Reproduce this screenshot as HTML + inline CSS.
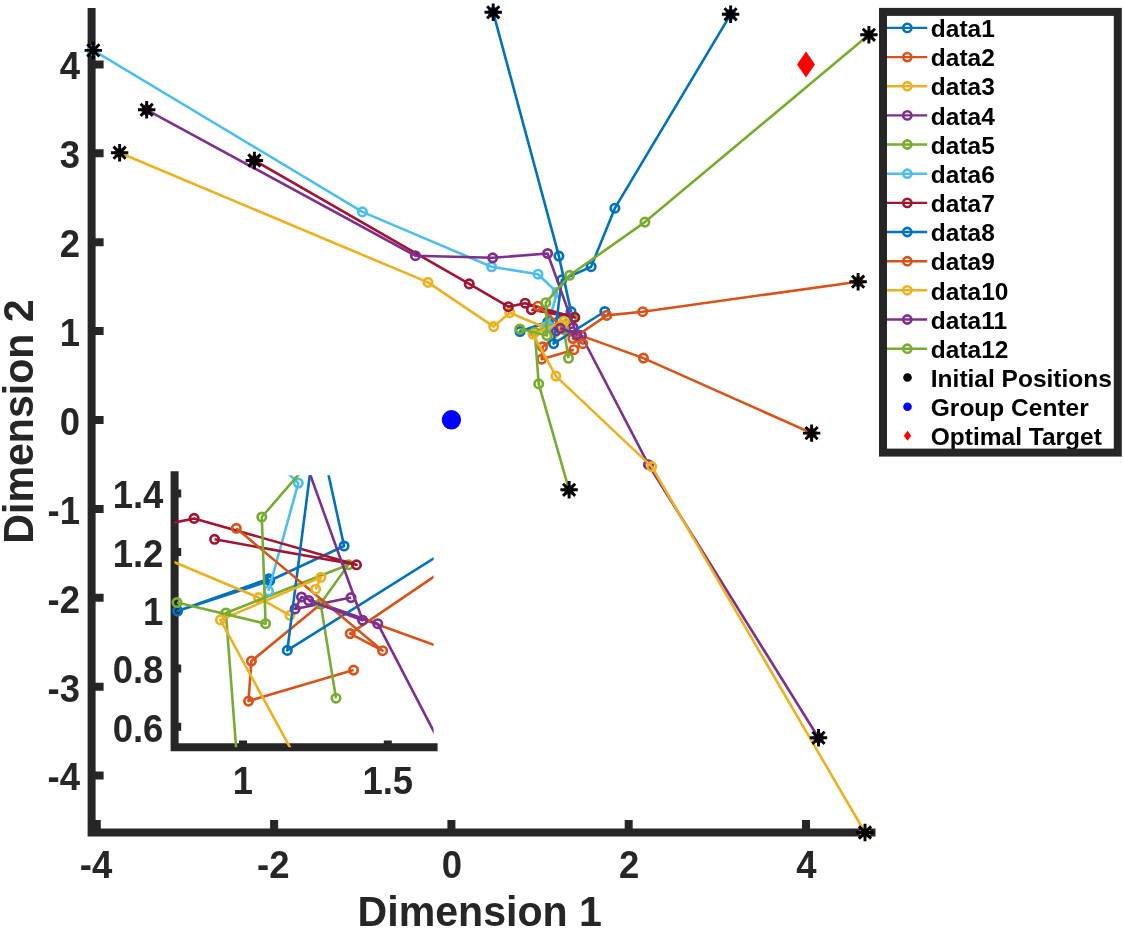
<!DOCTYPE html>
<html><head><meta charset="utf-8"><title>Dimension plot</title>
<style>
html,body{margin:0;padding:0;background:#fff}
svg{display:block;will-change:transform}
text{font-family:"Liberation Sans",Arial,Helvetica,sans-serif;font-weight:bold}
.tk{font-size:36.5px;fill:#262626}
.lb{font-size:41.1px;fill:#262626}
.lg{font-size:24.5px;fill:#000}
</style></head><body>
<svg width="1124" height="930" viewBox="0 0 1124 930">
<rect width="1124" height="930" fill="#fff"/>

<g id="axes" stroke="#262626" stroke-width="8" fill="none">
<path d="M91.6 8V836.6M87.6 832.6H875.5"/>
<path d="M91.6 775.6H103.6M91.6 686.7H103.6M91.6 597.8H103.6M91.6 508.9H103.6M91.6 420.0H103.6M91.6 331.1H103.6M91.6 242.2H103.6M91.6 153.3H103.6M91.6 64.4H103.6M96.8 832.6V820M274.1 832.6V820M451.4 832.6V820M628.7 832.6V820M806.0 832.6V820"/>
</g>
<text class="tk" transform="translate(80.0 790.4) scale(1 1.070)" text-anchor="end">-4</text>
<text class="tk" transform="translate(80.0 701.5) scale(1 1.070)" text-anchor="end">-3</text>
<text class="tk" transform="translate(80.0 612.6) scale(1 1.070)" text-anchor="end">-2</text>
<text class="tk" transform="translate(80.0 523.7) scale(1 1.070)" text-anchor="end">-1</text>
<text class="tk" transform="translate(80.0 434.8) scale(1 1.070)" text-anchor="end">0</text>
<text class="tk" transform="translate(80.0 345.9) scale(1 1.070)" text-anchor="end">1</text>
<text class="tk" transform="translate(80.0 257.0) scale(1 1.070)" text-anchor="end">2</text>
<text class="tk" transform="translate(80.0 168.1) scale(1 1.070)" text-anchor="end">3</text>
<text class="tk" transform="translate(80.0 79.2) scale(1 1.070)" text-anchor="end">4</text>
<text class="tk" transform="translate(96.0 878.0) scale(1 1.070)" text-anchor="middle">-4</text>
<text class="tk" transform="translate(273.3 878.0) scale(1 1.070)" text-anchor="middle">-2</text>
<text class="tk" transform="translate(451.8 878.0) scale(1 1.070)" text-anchor="middle">0</text>
<text class="tk" transform="translate(629.1 878.0) scale(1 1.070)" text-anchor="middle">2</text>
<text class="tk" transform="translate(806.4 878.0) scale(1 1.070)" text-anchor="middle">4</text>
<text class="lb" transform="translate(479.8 926.2) scale(1 1.03)" text-anchor="middle">Dimension 1</text>
<text class="lb" transform="translate(32.8 421.5) rotate(-90) scale(1 1.03)" text-anchor="middle">Dimension 2</text>
<g id="main">
<polyline points="493.2,12.3 558.9,256.1 571.0,311.6 548.2,322.3 520.0,331.5 548.0,321.7" fill="none" stroke="#0072BD" stroke-width="2.60" stroke-linejoin="round"/><circle cx="493.2" cy="12.3" r="4.2" fill="none" stroke="#0072BD" stroke-width="2.7"/><circle cx="558.9" cy="256.1" r="4.2" fill="none" stroke="#0072BD" stroke-width="2.7"/><circle cx="571.0" cy="311.6" r="4.2" fill="none" stroke="#0072BD" stroke-width="2.7"/><circle cx="548.2" cy="322.3" r="4.2" fill="none" stroke="#0072BD" stroke-width="2.7"/><circle cx="520.0" cy="331.5" r="4.2" fill="none" stroke="#0072BD" stroke-width="2.7"/><circle cx="548.0" cy="321.7" r="4.2" fill="none" stroke="#0072BD" stroke-width="2.7"/>
<polyline points="811.6,433.1 643.4,358.1 563.9,329.4 542.6,346.9 541.7,359.2 573.9,349.7" fill="none" stroke="#D95319" stroke-width="2.60" stroke-linejoin="round"/><circle cx="811.6" cy="433.1" r="4.2" fill="none" stroke="#D95319" stroke-width="2.7"/><circle cx="643.4" cy="358.1" r="4.2" fill="none" stroke="#D95319" stroke-width="2.7"/><circle cx="563.9" cy="329.4" r="4.2" fill="none" stroke="#D95319" stroke-width="2.7"/><circle cx="542.6" cy="346.9" r="4.2" fill="none" stroke="#D95319" stroke-width="2.7"/><circle cx="541.7" cy="359.2" r="4.2" fill="none" stroke="#D95319" stroke-width="2.7"/><circle cx="573.9" cy="349.7" r="4.2" fill="none" stroke="#D95319" stroke-width="2.7"/>
<polyline points="119.6,152.7 428.0,282.4 493.7,326.6 509.8,312.7 544.8,327.5 554.4,332.9" fill="none" stroke="#EDB120" stroke-width="2.60" stroke-linejoin="round"/><circle cx="119.6" cy="152.7" r="4.2" fill="none" stroke="#EDB120" stroke-width="2.7"/><circle cx="428.0" cy="282.4" r="4.2" fill="none" stroke="#EDB120" stroke-width="2.7"/><circle cx="493.7" cy="326.6" r="4.2" fill="none" stroke="#EDB120" stroke-width="2.7"/><circle cx="509.8" cy="312.7" r="4.2" fill="none" stroke="#EDB120" stroke-width="2.7"/><circle cx="544.8" cy="327.5" r="4.2" fill="none" stroke="#EDB120" stroke-width="2.7"/><circle cx="554.4" cy="332.9" r="4.2" fill="none" stroke="#EDB120" stroke-width="2.7"/>
<polyline points="818.5,737.8 648.5,464.7 581.3,335.5 558.0,327.3 556.0,330.9 573.1,327.5" fill="none" stroke="#7E2F8E" stroke-width="2.60" stroke-linejoin="round"/><circle cx="818.5" cy="737.8" r="4.2" fill="none" stroke="#7E2F8E" stroke-width="2.7"/><circle cx="648.5" cy="464.7" r="4.2" fill="none" stroke="#7E2F8E" stroke-width="2.7"/><circle cx="581.3" cy="335.5" r="4.2" fill="none" stroke="#7E2F8E" stroke-width="2.7"/><circle cx="558.0" cy="327.3" r="4.2" fill="none" stroke="#7E2F8E" stroke-width="2.7"/><circle cx="556.0" cy="330.9" r="4.2" fill="none" stroke="#7E2F8E" stroke-width="2.7"/><circle cx="573.1" cy="327.5" r="4.2" fill="none" stroke="#7E2F8E" stroke-width="2.7"/>
<polyline points="569.1,489.8 538.7,383.9 534.8,332.2 572.3,317.4 563.8,329.2 568.5,358.3" fill="none" stroke="#77AC30" stroke-width="2.60" stroke-linejoin="round"/><circle cx="569.1" cy="489.8" r="4.2" fill="none" stroke="#77AC30" stroke-width="2.7"/><circle cx="538.7" cy="383.9" r="4.2" fill="none" stroke="#77AC30" stroke-width="2.7"/><circle cx="534.8" cy="332.2" r="4.2" fill="none" stroke="#77AC30" stroke-width="2.7"/><circle cx="572.3" cy="317.4" r="4.2" fill="none" stroke="#77AC30" stroke-width="2.7"/><circle cx="563.8" cy="329.2" r="4.2" fill="none" stroke="#77AC30" stroke-width="2.7"/><circle cx="568.5" cy="358.3" r="4.2" fill="none" stroke="#77AC30" stroke-width="2.7"/>
<polyline points="93.3,50.4 362.4,211.9 491.6,266.8 538.0,274.2 557.0,292.3 547.9,325.4" fill="none" stroke="#4DBEEE" stroke-width="2.60" stroke-linejoin="round"/><circle cx="93.3" cy="50.4" r="4.2" fill="none" stroke="#4DBEEE" stroke-width="2.7"/><circle cx="362.4" cy="211.9" r="4.2" fill="none" stroke="#4DBEEE" stroke-width="2.7"/><circle cx="491.6" cy="266.8" r="4.2" fill="none" stroke="#4DBEEE" stroke-width="2.7"/><circle cx="538.0" cy="274.2" r="4.2" fill="none" stroke="#4DBEEE" stroke-width="2.7"/><circle cx="557.0" cy="292.3" r="4.2" fill="none" stroke="#4DBEEE" stroke-width="2.7"/><circle cx="547.9" cy="325.4" r="4.2" fill="none" stroke="#4DBEEE" stroke-width="2.7"/>
<polyline points="254.4,160.5 469.2,283.9 508.3,306.7 525.1,303.2 574.8,317.4 531.4,309.6" fill="none" stroke="#A2142F" stroke-width="2.60" stroke-linejoin="round"/><circle cx="254.4" cy="160.5" r="4.2" fill="none" stroke="#A2142F" stroke-width="2.7"/><circle cx="469.2" cy="283.9" r="4.2" fill="none" stroke="#A2142F" stroke-width="2.7"/><circle cx="508.3" cy="306.7" r="4.2" fill="none" stroke="#A2142F" stroke-width="2.7"/><circle cx="525.1" cy="303.2" r="4.2" fill="none" stroke="#A2142F" stroke-width="2.7"/><circle cx="574.8" cy="317.4" r="4.2" fill="none" stroke="#A2142F" stroke-width="2.7"/><circle cx="531.4" cy="309.6" r="4.2" fill="none" stroke="#A2142F" stroke-width="2.7"/>
<polyline points="730.6,14.3 614.9,208.2 591.1,266.7 561.8,279.9 553.6,343.6 604.8,311.5" fill="none" stroke="#0072BD" stroke-width="2.60" stroke-linejoin="round"/><circle cx="730.6" cy="14.3" r="4.2" fill="none" stroke="#0072BD" stroke-width="2.7"/><circle cx="614.9" cy="208.2" r="4.2" fill="none" stroke="#0072BD" stroke-width="2.7"/><circle cx="591.1" cy="266.7" r="4.2" fill="none" stroke="#0072BD" stroke-width="2.7"/><circle cx="561.8" cy="279.9" r="4.2" fill="none" stroke="#0072BD" stroke-width="2.7"/><circle cx="553.6" cy="343.6" r="4.2" fill="none" stroke="#0072BD" stroke-width="2.7"/><circle cx="604.8" cy="311.5" r="4.2" fill="none" stroke="#0072BD" stroke-width="2.7"/>
<polyline points="858.1,281.7 642.7,311.7 606.8,315.4 572.9,338.5 582.8,343.7 538.0,306.2" fill="none" stroke="#D95319" stroke-width="2.60" stroke-linejoin="round"/><circle cx="858.1" cy="281.7" r="4.2" fill="none" stroke="#D95319" stroke-width="2.7"/><circle cx="642.7" cy="311.7" r="4.2" fill="none" stroke="#D95319" stroke-width="2.7"/><circle cx="606.8" cy="315.4" r="4.2" fill="none" stroke="#D95319" stroke-width="2.7"/><circle cx="572.9" cy="338.5" r="4.2" fill="none" stroke="#D95319" stroke-width="2.7"/><circle cx="582.8" cy="343.7" r="4.2" fill="none" stroke="#D95319" stroke-width="2.7"/><circle cx="538.0" cy="306.2" r="4.2" fill="none" stroke="#D95319" stroke-width="2.7"/>
<polyline points="865.0,832.5 651.7,466.6 555.9,376.1 533.1,334.3 563.9,321.2 562.3,324.9" fill="none" stroke="#EDB120" stroke-width="2.60" stroke-linejoin="round"/><circle cx="865.0" cy="832.5" r="4.2" fill="none" stroke="#EDB120" stroke-width="2.7"/><circle cx="651.7" cy="466.6" r="4.2" fill="none" stroke="#EDB120" stroke-width="2.7"/><circle cx="555.9" cy="376.1" r="4.2" fill="none" stroke="#EDB120" stroke-width="2.7"/><circle cx="533.1" cy="334.3" r="4.2" fill="none" stroke="#EDB120" stroke-width="2.7"/><circle cx="563.9" cy="321.2" r="4.2" fill="none" stroke="#EDB120" stroke-width="2.7"/><circle cx="562.3" cy="324.9" r="4.2" fill="none" stroke="#EDB120" stroke-width="2.7"/>
<polyline points="146.7,109.8 415.4,255.7 492.7,257.8 547.6,253.5 576.7,334.4 560.2,328.3" fill="none" stroke="#7E2F8E" stroke-width="2.60" stroke-linejoin="round"/><circle cx="146.7" cy="109.8" r="4.2" fill="none" stroke="#7E2F8E" stroke-width="2.7"/><circle cx="415.4" cy="255.7" r="4.2" fill="none" stroke="#7E2F8E" stroke-width="2.7"/><circle cx="492.7" cy="257.8" r="4.2" fill="none" stroke="#7E2F8E" stroke-width="2.7"/><circle cx="547.6" cy="253.5" r="4.2" fill="none" stroke="#7E2F8E" stroke-width="2.7"/><circle cx="576.7" cy="334.4" r="4.2" fill="none" stroke="#7E2F8E" stroke-width="2.7"/><circle cx="560.2" cy="328.3" r="4.2" fill="none" stroke="#7E2F8E" stroke-width="2.7"/>
<polyline points="868.9,34.8 644.9,222.1 569.6,275.3 545.8,302.7 547.0,335.5 519.8,329.0" fill="none" stroke="#77AC30" stroke-width="2.60" stroke-linejoin="round"/><circle cx="868.9" cy="34.8" r="4.2" fill="none" stroke="#77AC30" stroke-width="2.7"/><circle cx="644.9" cy="222.1" r="4.2" fill="none" stroke="#77AC30" stroke-width="2.7"/><circle cx="569.6" cy="275.3" r="4.2" fill="none" stroke="#77AC30" stroke-width="2.7"/><circle cx="545.8" cy="302.7" r="4.2" fill="none" stroke="#77AC30" stroke-width="2.7"/><circle cx="547.0" cy="335.5" r="4.2" fill="none" stroke="#77AC30" stroke-width="2.7"/><circle cx="519.8" cy="329.0" r="4.2" fill="none" stroke="#77AC30" stroke-width="2.7"/>
<circle cx="451.4" cy="419.8" r="9.7" fill="#0000FF"/>
<path d="M806.0 51.4L815.0 64.4L806.0 77.4L797.0 64.4Z" fill="#FF0000"/>
<path d="M484.5 12.3H501.9M493.2 3.6V21.0M487.1 6.2L499.3 18.4M487.1 18.4L499.3 6.2" stroke="#000" stroke-width="2.9" fill="none"/>
<path d="M802.9 433.1H820.3M811.6 424.4V441.8M805.5 427.0L817.7 439.2M805.5 439.2L817.7 427.0" stroke="#000" stroke-width="2.9" fill="none"/>
<path d="M110.9 152.7H128.3M119.6 144.0V161.4M113.5 146.6L125.7 158.8M113.5 158.8L125.7 146.6" stroke="#000" stroke-width="2.9" fill="none"/>
<path d="M809.8 737.8H827.2M818.5 729.1V746.5M812.4 731.7L824.6 743.9M812.4 743.9L824.6 731.7" stroke="#000" stroke-width="2.9" fill="none"/>
<path d="M560.4 489.8H577.8M569.1 481.1V498.5M563.0 483.7L575.2 495.9M563.0 495.9L575.2 483.7" stroke="#000" stroke-width="2.9" fill="none"/>
<path d="M84.6 50.4H102.0M93.3 41.7V59.1M87.2 44.3L99.4 56.5M87.2 56.5L99.4 44.3" stroke="#000" stroke-width="2.9" fill="none"/>
<path d="M245.7 160.5H263.1M254.4 151.8V169.2M248.3 154.4L260.5 166.6M248.3 166.6L260.5 154.4" stroke="#000" stroke-width="2.9" fill="none"/>
<path d="M721.9 14.3H739.3M730.6 5.6V23.0M724.5 8.2L736.7 20.4M724.5 20.4L736.7 8.2" stroke="#000" stroke-width="2.9" fill="none"/>
<path d="M849.4 281.7H866.8M858.1 273.0V290.4M852.0 275.6L864.2 287.8M852.0 287.8L864.2 275.6" stroke="#000" stroke-width="2.9" fill="none"/>
<path d="M856.3 832.5H873.7M865.0 823.8V841.2M858.9 826.4L871.1 838.6M858.9 838.6L871.1 826.4" stroke="#000" stroke-width="2.9" fill="none"/>
<path d="M138.0 109.8H155.4M146.7 101.1V118.5M140.6 103.7L152.8 115.9M140.6 115.9L152.8 103.7" stroke="#000" stroke-width="2.9" fill="none"/>
<path d="M860.2 34.8H877.6M868.9 26.1V43.5M862.8 28.7L875.0 40.9M862.8 40.9L875.0 28.7" stroke="#000" stroke-width="2.9" fill="none"/>
</g>
<g stroke="#262626" stroke-width="8" fill="none">
<path d="M174.6 471.2V751.2M170.6 747.2H437.6"/>
<path d="M174.6 726.8H181.2M174.6 668.5H181.2M174.6 610.2H181.2M174.6 551.9H181.2M174.6 493.6H181.2M243.0 747.2V740.6M387.8 747.2V740.6"/>
</g>
<text class="tk" transform="translate(163.4 741.6) scale(1 1.070)" text-anchor="end">0.6</text>
<text class="tk" transform="translate(163.4 683.3) scale(1 1.070)" text-anchor="end">0.8</text>
<text class="tk" transform="translate(163.4 625.0) scale(1 1.070)" text-anchor="end">1</text>
<text class="tk" transform="translate(163.4 566.7) scale(1 1.070)" text-anchor="end">1.2</text>
<text class="tk" transform="translate(163.4 508.4) scale(1 1.070)" text-anchor="end">1.4</text>
<text class="tk" transform="translate(243.0 793.5) scale(1 1.070)" text-anchor="middle">1</text>
<text class="tk" transform="translate(387.8 793.5) scale(1 1.070)" text-anchor="middle">1.5</text>
<clipPath id="ic"><rect x="174.6" y="475.2" width="259.0" height="272.0"/></clipPath>
<g id="inset">
<polyline clip-path="url(#ic)" points="89.8,-430.4 304.4,364.7 344.1,546.0 269.6,580.8 177.6,611.0 268.9,578.7" fill="none" stroke="#0072BD" stroke-width="2.60" stroke-linejoin="round"/>
<circle cx="344.1" cy="546.0" r="4.2" fill="none" stroke="#0072BD" stroke-width="2.7"/>
<circle cx="269.6" cy="580.8" r="4.2" fill="none" stroke="#0072BD" stroke-width="2.7"/>
<circle cx="177.6" cy="611.0" r="4.2" fill="none" stroke="#0072BD" stroke-width="2.7"/>
<circle cx="268.9" cy="578.7" r="4.2" fill="none" stroke="#0072BD" stroke-width="2.7"/>
<polyline clip-path="url(#ic)" points="1130.0,942.1 580.7,697.7 320.9,604.0 251.4,661.1 248.5,701.1 353.6,670.1" fill="none" stroke="#D95319" stroke-width="2.60" stroke-linejoin="round"/>
<circle cx="320.9" cy="604.0" r="4.2" fill="none" stroke="#D95319" stroke-width="2.7"/>
<circle cx="251.4" cy="661.1" r="4.2" fill="none" stroke="#D95319" stroke-width="2.7"/>
<circle cx="248.5" cy="701.1" r="4.2" fill="none" stroke="#D95319" stroke-width="2.7"/>
<circle cx="353.6" cy="670.1" r="4.2" fill="none" stroke="#D95319" stroke-width="2.7"/>
<polyline clip-path="url(#ic)" points="-1130.3,27.5 -123.1,450.6 91.5,594.7 144.2,549.5 258.6,597.6 289.9,615.3" fill="none" stroke="#EDB120" stroke-width="2.60" stroke-linejoin="round"/>
<circle cx="258.6" cy="597.6" r="4.2" fill="none" stroke="#EDB120" stroke-width="2.7"/>
<circle cx="289.9" cy="615.3" r="4.2" fill="none" stroke="#EDB120" stroke-width="2.7"/>
<polyline clip-path="url(#ic)" points="1152.6,1936.2 597.2,1045.4 377.7,623.7 301.5,597.0 295.1,608.9 351.0,597.6" fill="none" stroke="#7E2F8E" stroke-width="2.60" stroke-linejoin="round"/>
<circle cx="377.7" cy="623.7" r="4.2" fill="none" stroke="#7E2F8E" stroke-width="2.7"/>
<circle cx="301.5" cy="597.0" r="4.2" fill="none" stroke="#7E2F8E" stroke-width="2.7"/>
<circle cx="295.1" cy="608.9" r="4.2" fill="none" stroke="#7E2F8E" stroke-width="2.7"/>
<circle cx="351.0" cy="597.6" r="4.2" fill="none" stroke="#7E2F8E" stroke-width="2.7"/>
<polyline clip-path="url(#ic)" points="337.8,1127.2 238.7,781.8 225.9,613.0 348.4,564.8 320.6,603.4 336.0,698.2" fill="none" stroke="#77AC30" stroke-width="2.60" stroke-linejoin="round"/>
<circle cx="225.9" cy="613.0" r="4.2" fill="none" stroke="#77AC30" stroke-width="2.7"/>
<circle cx="348.4" cy="564.8" r="4.2" fill="none" stroke="#77AC30" stroke-width="2.7"/>
<circle cx="320.6" cy="603.4" r="4.2" fill="none" stroke="#77AC30" stroke-width="2.7"/>
<circle cx="336.0" cy="698.2" r="4.2" fill="none" stroke="#77AC30" stroke-width="2.7"/>
<polyline clip-path="url(#ic)" points="-1216.3,-306.0 -337.4,220.6 84.6,399.8 236.3,423.9 298.3,483.1 268.5,590.9" fill="none" stroke="#4DBEEE" stroke-width="2.60" stroke-linejoin="round"/>
<circle cx="298.3" cy="483.1" r="4.2" fill="none" stroke="#4DBEEE" stroke-width="2.7"/>
<circle cx="268.5" cy="590.9" r="4.2" fill="none" stroke="#4DBEEE" stroke-width="2.7"/>
<polyline clip-path="url(#ic)" points="-690.1,53.0 11.6,455.5 139.3,530.0 194.1,518.4 356.5,564.8 214.6,539.3" fill="none" stroke="#A2142F" stroke-width="2.60" stroke-linejoin="round"/>
<circle cx="194.1" cy="518.4" r="4.2" fill="none" stroke="#A2142F" stroke-width="2.7"/>
<circle cx="356.5" cy="564.8" r="4.2" fill="none" stroke="#A2142F" stroke-width="2.7"/>
<circle cx="214.6" cy="539.3" r="4.2" fill="none" stroke="#A2142F" stroke-width="2.7"/>
<polyline clip-path="url(#ic)" points="865.4,-424.1 487.4,208.7 409.8,399.5 314.0,442.5 287.3,650.4 454.4,545.4" fill="none" stroke="#0072BD" stroke-width="2.60" stroke-linejoin="round"/>
<circle cx="287.3" cy="650.4" r="4.2" fill="none" stroke="#0072BD" stroke-width="2.7"/>
<polyline clip-path="url(#ic)" points="1281.8,448.3 578.4,546.3 461.1,558.2 350.2,633.6 382.6,650.7 236.3,528.3" fill="none" stroke="#D95319" stroke-width="2.60" stroke-linejoin="round"/>
<circle cx="350.2" cy="633.6" r="4.2" fill="none" stroke="#D95319" stroke-width="2.7"/>
<circle cx="382.6" cy="650.7" r="4.2" fill="none" stroke="#D95319" stroke-width="2.7"/>
<circle cx="236.3" cy="528.3" r="4.2" fill="none" stroke="#D95319" stroke-width="2.7"/>
<polyline clip-path="url(#ic)" points="1304.4,2245.1 607.6,1051.5 294.8,756.2 220.4,619.9 320.9,577.3 315.7,589.2" fill="none" stroke="#EDB120" stroke-width="2.60" stroke-linejoin="round"/>
<circle cx="220.4" cy="619.9" r="4.2" fill="none" stroke="#EDB120" stroke-width="2.7"/>
<circle cx="320.9" cy="577.3" r="4.2" fill="none" stroke="#EDB120" stroke-width="2.7"/>
<circle cx="315.7" cy="589.2" r="4.2" fill="none" stroke="#EDB120" stroke-width="2.7"/>
<polyline clip-path="url(#ic)" points="-1042.0,-112.3 -164.2,363.6 88.4,370.2 267.6,356.3 362.6,620.2 308.7,600.5" fill="none" stroke="#7E2F8E" stroke-width="2.60" stroke-linejoin="round"/>
<circle cx="362.6" cy="620.2" r="4.2" fill="none" stroke="#7E2F8E" stroke-width="2.7"/>
<circle cx="308.7" cy="600.5" r="4.2" fill="none" stroke="#7E2F8E" stroke-width="2.7"/>
<polyline clip-path="url(#ic)" points="1317.1,-357.1 585.3,254.0 339.4,427.4 261.8,517.0 265.6,623.7 177.0,602.5" fill="none" stroke="#77AC30" stroke-width="2.60" stroke-linejoin="round"/>
<circle cx="261.8" cy="517.0" r="4.2" fill="none" stroke="#77AC30" stroke-width="2.7"/>
<circle cx="265.6" cy="623.7" r="4.2" fill="none" stroke="#77AC30" stroke-width="2.7"/>
<circle cx="177.0" cy="602.5" r="4.2" fill="none" stroke="#77AC30" stroke-width="2.7"/>
</g>
<rect x="883" y="11.9" width="234.8" height="440.7" fill="#fff" stroke="none"/>
<path d="M887 27.9H927.2" stroke="#0072BD" stroke-width="2.4"/>
<circle cx="907.3" cy="27.9" r="4.1" fill="none" stroke="#0072BD" stroke-width="2.6"/>
<text class="lg" x="930.8" y="37.1">data1</text>
<path d="M887 57.1H927.2" stroke="#D95319" stroke-width="2.4"/>
<circle cx="907.3" cy="57.1" r="4.1" fill="none" stroke="#D95319" stroke-width="2.6"/>
<text class="lg" x="930.8" y="66.3">data2</text>
<path d="M887 86.2H927.2" stroke="#EDB120" stroke-width="2.4"/>
<circle cx="907.3" cy="86.2" r="4.1" fill="none" stroke="#EDB120" stroke-width="2.6"/>
<text class="lg" x="930.8" y="95.4">data3</text>
<path d="M887 115.4H927.2" stroke="#7E2F8E" stroke-width="2.4"/>
<circle cx="907.3" cy="115.4" r="4.1" fill="none" stroke="#7E2F8E" stroke-width="2.6"/>
<text class="lg" x="930.8" y="124.6">data4</text>
<path d="M887 144.5H927.2" stroke="#77AC30" stroke-width="2.4"/>
<circle cx="907.3" cy="144.5" r="4.1" fill="none" stroke="#77AC30" stroke-width="2.6"/>
<text class="lg" x="930.8" y="153.7">data5</text>
<path d="M887 173.7H927.2" stroke="#4DBEEE" stroke-width="2.4"/>
<circle cx="907.3" cy="173.7" r="4.1" fill="none" stroke="#4DBEEE" stroke-width="2.6"/>
<text class="lg" x="930.8" y="182.9">data6</text>
<path d="M887 202.9H927.2" stroke="#A2142F" stroke-width="2.4"/>
<circle cx="907.3" cy="202.9" r="4.1" fill="none" stroke="#A2142F" stroke-width="2.6"/>
<text class="lg" x="930.8" y="212.1">data7</text>
<path d="M887 232.0H927.2" stroke="#0072BD" stroke-width="2.4"/>
<circle cx="907.3" cy="232.0" r="4.1" fill="none" stroke="#0072BD" stroke-width="2.6"/>
<text class="lg" x="930.8" y="241.2">data8</text>
<path d="M887 261.2H927.2" stroke="#D95319" stroke-width="2.4"/>
<circle cx="907.3" cy="261.2" r="4.1" fill="none" stroke="#D95319" stroke-width="2.6"/>
<text class="lg" x="930.8" y="270.4">data9</text>
<path d="M887 290.3H927.2" stroke="#EDB120" stroke-width="2.4"/>
<circle cx="907.3" cy="290.3" r="4.1" fill="none" stroke="#EDB120" stroke-width="2.6"/>
<text class="lg" x="930.8" y="299.5">data10</text>
<path d="M887 319.5H927.2" stroke="#7E2F8E" stroke-width="2.4"/>
<circle cx="907.3" cy="319.5" r="4.1" fill="none" stroke="#7E2F8E" stroke-width="2.6"/>
<text class="lg" x="930.8" y="328.7">data11</text>
<path d="M887 348.7H927.2" stroke="#77AC30" stroke-width="2.4"/>
<circle cx="907.3" cy="348.7" r="4.1" fill="none" stroke="#77AC30" stroke-width="2.6"/>
<text class="lg" x="930.8" y="357.9">data12</text>
<circle cx="907.5" cy="377.5" r="4.3" fill="#000"/>
<text class="lg" x="930.8" y="387.0">Initial Positions</text>
<circle cx="907.5" cy="406.7" r="4.3" fill="#0000FF"/>
<text class="lg" x="930.8" y="416.2">Group Center</text>
<path d="M907.5 430.8l3.7 5l-3.7 5l-3.7 -5z" fill="#FF0000"/>
<text class="lg" x="930.8" y="445.3">Optimal Target</text>
<rect x="883" y="11.9" width="234.8" height="440.7" fill="none" stroke="#262626" stroke-width="8"/>
</svg></body></html>
